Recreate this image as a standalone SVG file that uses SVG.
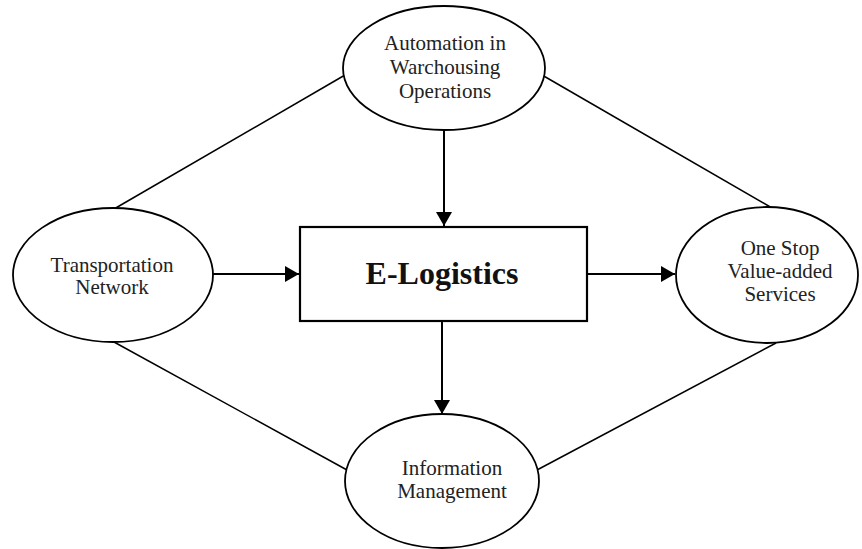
<svg xmlns="http://www.w3.org/2000/svg" width="862" height="549" viewBox="0 0 862 549">
<style>
.node{fill:#fff;stroke:#000;stroke-width:1.8}
.lbl{font-family:"Liberation Serif","Times New Roman",serif;font-size:21px;fill:#222;text-anchor:middle}
.title{font-family:"Liberation Serif","Times New Roman",serif;font-size:32px;font-weight:bold;fill:#111;text-anchor:middle}
.link{stroke:#000;stroke-width:1.5;fill:none}
.arrow{stroke:#000;stroke-width:2;fill:none;marker-end:url(#ah)}
</style>
<defs>
<marker id="ah" viewBox="0 0 14 16" refX="14" refY="8" markerWidth="14" markerHeight="16" orient="auto" markerUnits="userSpaceOnUse">
<path d="M0,0 L14,8 L0,16 Z" fill="#000"/>
</marker>
</defs>
<rect width="862" height="549" fill="#fff"/>
<g id="connectors">
<line class="link" x1="345" y1="75" x2="114" y2="209"/>
<line class="link" x1="542" y1="75" x2="772" y2="208"/>
<line class="link" x1="114" y1="342" x2="347" y2="470"/>
<line class="link" x1="537" y1="470" x2="776" y2="343"/>
<line class="arrow" x1="444" y1="130" x2="444" y2="226"/>
<line class="arrow" x1="213" y1="274" x2="299" y2="274"/>
<line class="arrow" x1="587" y1="274" x2="675" y2="274"/>
<line class="arrow" x1="442" y1="321" x2="442" y2="414"/>
</g>
<g id="automation">
<ellipse class="node" cx="444" cy="68" rx="101" ry="62"/>
<text class="lbl" x="445" y="50">Automation in</text>
<text class="lbl" x="445" y="74">Warchousing</text>
<text class="lbl" x="445" y="98">Operations</text>
</g>
<g id="transportation">
<ellipse class="node" cx="113" cy="275" rx="100" ry="67"/>
<text class="lbl" x="112" y="272">Transportation</text>
<text class="lbl" x="112" y="294">Network</text>
</g>
<g id="elogistics">
<rect class="node" x="300" y="227" width="287" height="94" style="stroke-width:2.2"/>
<text class="title" x="442" y="284">E-Logistics</text>
</g>
<g id="onestop">
<ellipse class="node" cx="767" cy="275" rx="91" ry="68"/>
<text class="lbl" x="780" y="255">One Stop</text>
<text class="lbl" x="780" y="278">Value-added</text>
<text class="lbl" x="780" y="301">Services</text>
</g>
<g id="information">
<ellipse class="node" cx="442" cy="481" rx="97" ry="67"/>
<text class="lbl" x="452" y="475">Information</text>
<text class="lbl" x="452" y="498">Management</text>
</g>
</svg>
